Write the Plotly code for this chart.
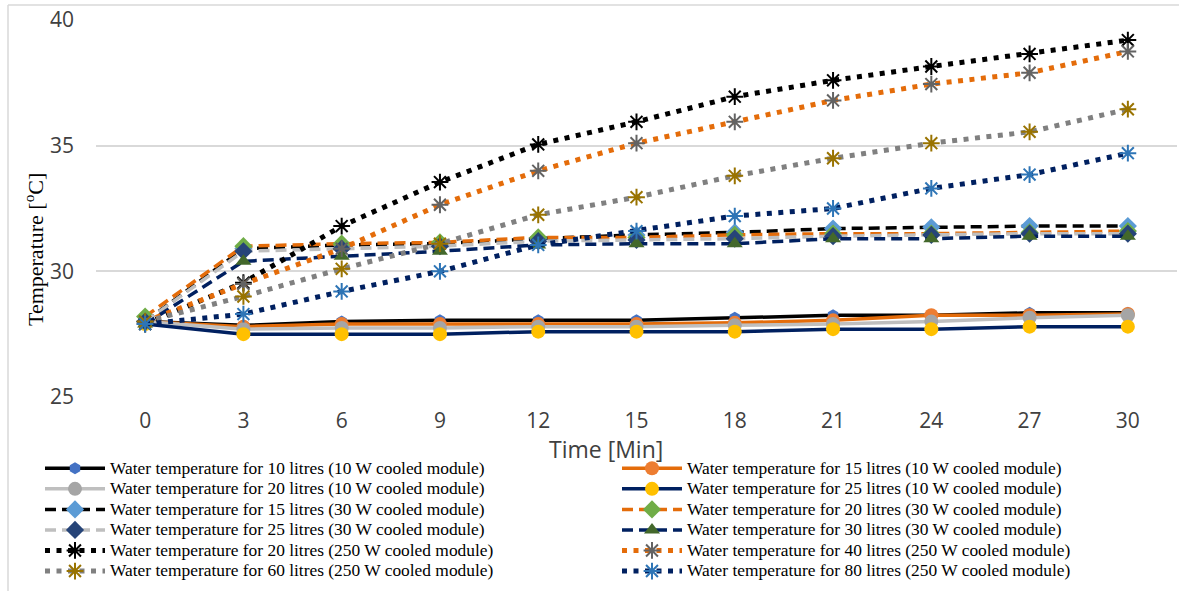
import plotly.graph_objects as go

time_min = [0, 3, 6, 9, 12, 15, 18, 21, 24, 27, 30]

w10_10l = [28.0, 27.85, 28.0, 28.05, 28.05, 28.05, 28.15, 28.25, 28.25, 28.35, 28.35]
w10_15l = [28.0, 27.8, 27.9, 27.9, 27.9, 27.9, 27.95, 28.05, 28.25, 28.25, 28.3]
w10_20l = [28.0, 27.7, 27.75, 27.75, 27.8, 27.8, 27.85, 27.9, 28.0, 28.15, 28.25]
w10_25l = [27.9, 27.5, 27.5, 27.5, 27.6, 27.6, 27.6, 27.7, 27.7, 27.8, 27.8]

w30_15l = [28.0, 30.9, 31.05, 31.1, 31.3, 31.45, 31.55, 31.7, 31.75, 31.8, 31.8]
w30_20l = [28.2, 31.0, 31.1, 31.15, 31.35, 31.35, 31.45, 31.5, 31.5, 31.55, 31.6]
w30_25l = [28.0, 30.8, 30.9, 31.0, 31.2, 31.25, 31.3, 31.4, 31.45, 31.5, 31.5]
w30_30l = [27.9, 30.4, 30.6, 30.8, 31.05, 31.1, 31.1, 31.3, 31.3, 31.4, 31.4]

w250_20l = [27.9, 29.55, 31.8, 33.55, 35.05, 35.95, 36.95, 37.6, 38.15, 38.65, 39.2]
w250_40l = [28.0, 29.5, 30.9, 32.65, 34.0, 35.1, 35.95, 36.8, 37.45, 37.9, 38.75]
w250_60l = [28.0, 29.0, 30.1, 31.1, 32.25, 32.95, 33.8, 34.5, 35.1, 35.55, 36.45]
w250_80l = [27.9, 28.3, 29.2, 30.0, 31.05, 31.6, 32.2, 32.5, 33.3, 33.85, 34.7]

y_ticks = [25, 30, 35, 40]

series = [
    ("Water temperature for 10 litres (10 W cooled module)", w10_10l, "#000000", "solid", 3.5, "hexagon", "#4472C4", 12),
    ("Water temperature for 15 litres (10 W cooled module)", w10_15l, "#E46C0A", "solid", 3.5, "circle", "#ED7D31", 14),
    ("Water temperature for 20 litres (10 W cooled module)", w10_20l, "#BFBFBF", "solid", 3.5, "circle", "#A5A5A5", 14),
    ("Water temperature for 25 litres (10 W cooled module)", w10_25l, "#002060", "solid", 3.5, "circle", "#FFC000", 14),
    ("Water temperature for 15 litres (30 W cooled module)", w30_15l, "#000000", "11px,6px", 3.5, "diamond", "#5B9BD5", 14),
    ("Water temperature for 20 litres (30 W cooled module)", w30_20l, "#E46C0A", "11px,6px", 3.5, "diamond", "#70AD47", 14),
    ("Water temperature for 25 litres (30 W cooled module)", w30_25l, "#BFBFBF", "11px,6px", 3.5, "diamond", "#264478", 14),
    ("Water temperature for 30 litres (30 W cooled module)", w30_30l, "#002060", "11px,6px", 3.5, "triangle-up", "#43682B", 14),
    ("Water temperature for 20 litres (250 W cooled module)", w250_20l, "#000000", "5px,6.5px", 5, "asterisk-open", "#000000", 14),
    ("Water temperature for 40 litres (250 W cooled module)", w250_40l, "#E46C0A", "5px,6.5px", 5, "asterisk-open", "#636363", 14),
    ("Water temperature for 60 litres (250 W cooled module)", w250_60l, "#808080", "5px,6.5px", 5, "asterisk-open", "#997300", 14),
    ("Water temperature for 80 litres (250 W cooled module)", w250_80l, "#002060", "5px,6.5px", 5, "asterisk-open", "#2E75B6", 14),
]

fig = go.Figure()
for i, (name, vals, lc, dash, lw, sym, mc, ms) in enumerate(series):
    marker = dict(symbol=sym, size=ms, color=mc)
    if sym.endswith("open"):
        marker["line"] = dict(color=mc, width=2)
    else:
        marker["line"] = dict(color=mc, width=0)
    fig.add_trace(go.Scatter(
        x=time_min, y=vals,
        name='<span style="font-size:17.4px">' + name + '</span>',
        mode="lines+markers",
        line=dict(color=lc, width=lw, dash=dash),
        marker=marker,
        legend="legend" if i % 2 == 0 else "legend2",
    ))

L, T, W, H = 96, 20, 1081, 377

def px(x):
    return (x - L) / W

def py(y):
    return (T + H - y) / H

leg_common = dict(
    orientation="v", yanchor="top", xanchor="left",
    itemwidth=60, tracegroupgap=0, traceorder="normal",
    font=dict(family="Liberation Serif", size=13.5, color="#000000"),
    bgcolor="rgba(0,0,0,0)",
)

fig.update_layout(
    width=1179, height=591,
    margin=dict(l=L, r=1179 - L - W, t=T, b=591 - T - H),
    plot_bgcolor="white", paper_bgcolor="white",
    showlegend=True,
    legend=dict(x=px(40), y=py(453), **leg_common),
    legend2=dict(x=px(617), y=py(453), **leg_common),
    xaxis=dict(
        range=[-1.5, 31.5], tickmode="array", tickvals=time_min,
        ticktext=[str(t) for t in time_min],
        showgrid=False, zeroline=False, showline=False, ticks="",
        tickfont=dict(family="Open Sans", size=21, color="#404040"),
        ticklabelstandoff=9,
    ),
    yaxis=dict(
        range=[25, 40], tickmode="array", tickvals=y_ticks,
        showgrid=True, gridcolor="#D9D9D9", gridwidth=1.5,
        zeroline=False, showline=False, ticks="",
        tickfont=dict(family="Open Sans", size=21, color="#404040"),
        ticklabelstandoff=21,
    ),
    annotations=[
        dict(text="Time [Min]", x=px(606), y=py(449), xref="paper", yref="paper",
             showarrow=False, font=dict(family="Open Sans", size=23, color="#404040"),
             xanchor="center", yanchor="middle"),
        dict(text="Temperature [<sup>o</sup>C]", x=px(34), y=py(250), xref="paper", yref="paper",
             showarrow=False, textangle=-90,
             font=dict(family="Liberation Serif", size=22, color="#000000"),
             xanchor="center", yanchor="middle"),
    ],
    shapes=[
        dict(type="line", xref="paper", yref="paper", x0=px(8), x1=px(8), y0=py(5), y1=py(600),
             line=dict(color="#D9D9D9", width=1.5)),
        dict(type="line", xref="paper", yref="paper", x0=px(8), x1=px(1200), y0=py(5), y1=py(5),
             line=dict(color="#D9D9D9", width=1.5)),
    ],
)

fig.write_html(
    "out.html",
    config={"displayModeBar": False},
    post_script="document.body.style.margin='0px';document.body.style.overflow='hidden';",
)
